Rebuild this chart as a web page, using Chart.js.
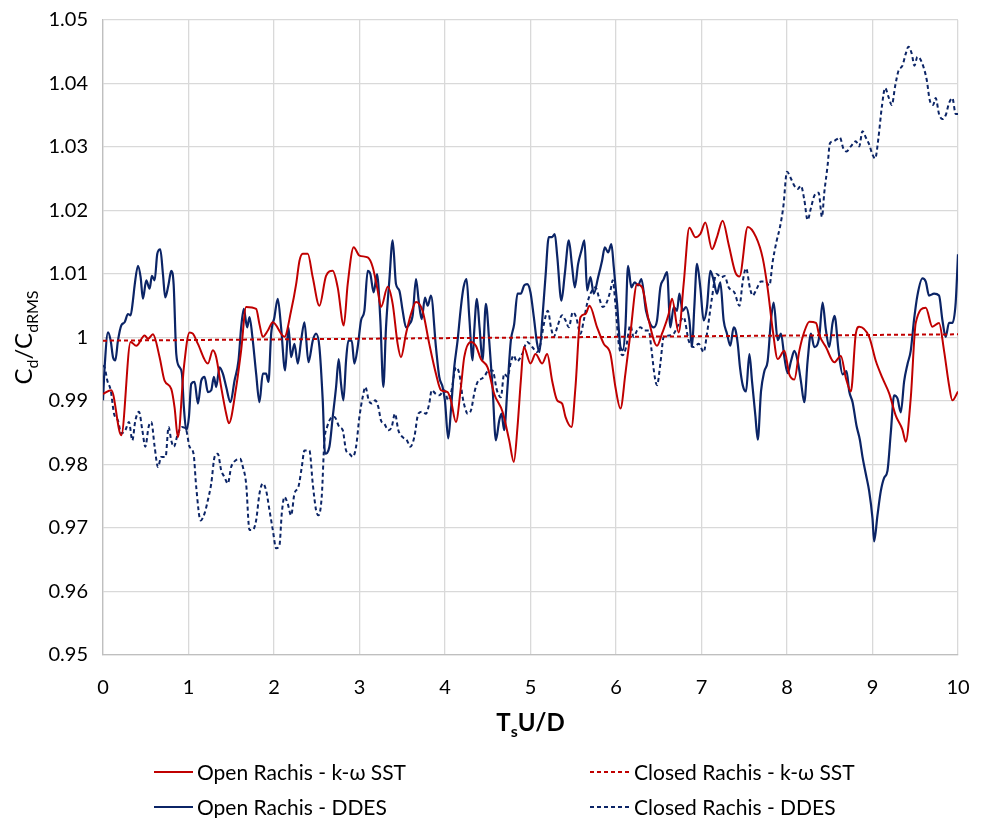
<!DOCTYPE html>
<html>
<head>
<meta charset="utf-8">
<script src="https://cdn.jsdelivr.net/npm/chart.js@4/dist/chart.umd.min.js"></script>
<style>
  body { margin: 0; background: #fff; }
  #wrap { width: 984px; height: 818px; }
</style>
</head>
<body>
<div id="wrap"><canvas id="chart" width="984" height="818"></canvas></div>
<script>
// ticks
const xTicks = [0, 1, 2, 3, 4, 5, 6, 7, 8, 9, 10];
const yTicks = [0.95, 0.96, 0.97, 0.98, 0.99, 1.0, 1.01, 1.02, 1.03, 1.04, 1.05];

const seriesLabels = ["Open Rachis - k-\u03c9 SST", "Closed Rachis - k-\u03c9 SST", "Open Rachis - DDES", "Closed Rachis - DDES"];

// Open Rachis - k-w SST (red solid)
const sstOpenX = [0, 0.097, 0.214, 0.323, 0.389, 0.487, 0.526, 0.584, 0.662, 0.72, 0.798, 0.837, 0.876, 0.946, 1.012, 1.051, 1.11, 1.227, 1.285, 1.324, 1.382, 1.441, 1.472, 1.558, 1.616, 1.674, 1.791, 1.83, 1.869, 1.928, 1.986, 2.122, 2.2, 2.259, 2.298, 2.336, 2.395, 2.453, 2.531, 2.609, 2.687, 2.745, 2.816, 2.862, 2.932, 2.999, 3.096, 3.154, 3.213, 3.252, 3.33, 3.388, 3.446, 3.485, 3.544, 3.602, 3.661, 3.738, 3.816, 3.894, 3.953, 4.03, 4.069, 4.128, 4.186, 4.225, 4.303, 4.361, 4.42, 4.498, 4.576, 4.673, 4.751, 4.805, 4.848, 4.887, 4.922, 5.0, 5.059, 5.137, 5.195, 5.253, 5.312, 5.37, 5.409, 5.479, 5.526, 5.584, 5.643, 5.69, 5.779, 5.857, 5.935, 5.993, 6.052, 6.11, 6.168, 6.246, 6.305, 6.383, 6.48, 6.538, 6.616, 6.655, 6.733, 6.791, 6.858, 6.928, 6.986, 7.045, 7.123, 7.181, 7.247, 7.317, 7.395, 7.444, 7.541, 7.638, 7.716, 7.774, 7.833, 7.891, 7.969, 8.027, 8.086, 8.144, 8.202, 8.261, 8.339, 8.377, 8.455, 8.553, 8.63, 8.689, 8.747, 8.805, 8.844, 8.961, 9.039, 9.117, 9.195, 9.272, 9.35, 9.389, 9.447, 9.506, 9.623, 9.7, 9.778, 9.837, 9.895, 9.934, 10.0];
const sstOpenY = [0.9911, 0.9917, 0.9846, 0.9993, 0.9987, 1.0003, 0.9998, 1.0005, 0.9969, 0.9932, 0.9919, 0.989, 0.9843, 0.9953, 1.0008, 1.0006, 0.999, 0.9959, 0.998, 0.9969, 0.9922, 0.988, 0.9865, 0.9922, 0.998, 1.0048, 1.0045, 1.0021, 1.0001, 1.0011, 1.0024, 1.0001, 1.0042, 1.0084, 1.0121, 1.0132, 1.0132, 1.0095, 1.005, 1.0097, 1.0105, 1.0079, 1.0019, 1.0084, 1.0142, 1.0129, 1.0126, 1.0111, 1.0074, 1.0048, 1.008, 1.0053, 0.999, 0.9969, 1.0006, 1.0037, 1.0056, 1.0042, 0.999, 0.9943, 0.9917, 0.9914, 0.9901, 0.9867, 0.9922, 0.9969, 0.9993, 0.9987, 0.9966, 0.9953, 0.9911, 0.9883, 0.9838, 0.9804, 0.9859, 0.9932, 0.9985, 0.9959, 0.9974, 0.9959, 0.9974, 0.9932, 0.9901, 0.9896, 0.9875, 0.9859, 0.9922, 1.0032, 1.0037, 1.005, 1.0016, 0.999, 0.9974, 0.9922, 0.9888, 0.9943, 1.0006, 1.0084, 1.0079, 1.0027, 0.9987, 1.0006, 1.0037, 1.0061, 1.0008, 1.0084, 1.0173, 1.0158, 1.0163, 1.0181, 1.0139, 1.0158, 1.0184, 1.0147, 1.0103, 1.0096, 1.0174, 1.0158, 1.0125, 1.0077, 1.0012, 0.9966, 0.9979, 0.9942, 0.9934, 0.9979, 1.0009, 1.0025, 1.0023, 1.0004, 0.9985, 0.9961, 0.9971, 0.9936, 0.9915, 1.0006, 1.0017, 1.0001, 0.9963, 0.9936, 0.9912, 0.9877, 0.9855, 0.9836, 0.9904, 1.0023, 1.0047, 1.0017, 1.0023, 0.9979, 0.9925, 0.9901, 0.9915];

// Closed Rachis - k-w SST (red dashed)
const sstClosedX = [0, 2, 4, 6, 8, 10];
const sstClosedY = [0.9995, 0.9997, 0.9999, 1.0001, 1.0003, 1.0005];

// Open Rachis - DDES (navy solid)
const ddesOpenX = [0, 0.019, 0.058, 0.09, 0.117, 0.144, 0.175, 0.214, 0.253, 0.292, 0.323, 0.35, 0.37, 0.409, 0.44, 0.467, 0.506, 0.545, 0.572, 0.604, 0.635, 0.67, 0.701, 0.728, 0.767, 0.798, 0.826, 0.857, 0.896, 0.923, 0.946, 0.974, 1.005, 1.032, 1.071, 1.11, 1.149, 1.188, 1.227, 1.266, 1.297, 1.324, 1.363, 1.402, 1.441, 1.491, 1.538, 1.585, 1.616, 1.647, 1.686, 1.713, 1.752, 1.791, 1.83, 1.869, 1.908, 1.935, 1.967, 2.005, 2.044, 2.083, 2.13, 2.169, 2.2, 2.239, 2.278, 2.317, 2.356, 2.403, 2.453, 2.492, 2.531, 2.57, 2.597, 2.648, 2.687, 2.726, 2.757, 2.784, 2.812, 2.843, 2.87, 2.909, 2.94, 2.979, 3.018, 3.057, 3.096, 3.127, 3.166, 3.205, 3.244, 3.279, 3.31, 3.349, 3.388, 3.427, 3.466, 3.505, 3.544, 3.583, 3.622, 3.661, 3.692, 3.727, 3.766, 3.797, 3.836, 3.894, 3.933, 3.972, 3.999, 4.038, 4.069, 4.108, 4.147, 4.186, 4.217, 4.252, 4.284, 4.323, 4.342, 4.373, 4.404, 4.439, 4.478, 4.517, 4.556, 4.595, 4.634, 4.661, 4.692, 4.731, 4.77, 4.809, 4.848, 4.887, 4.926, 4.961, 5.0, 5.039, 5.078, 5.105, 5.137, 5.175, 5.214, 5.253, 5.284, 5.312, 5.362, 5.401, 5.448, 5.487, 5.518, 5.557, 5.596, 5.631, 5.662, 5.701, 5.74, 5.791, 5.837, 5.869, 5.908, 5.946, 5.974, 6.013, 6.052, 6.079, 6.11, 6.141, 6.18, 6.219, 6.258, 6.297, 6.351, 6.402, 6.441, 6.48, 6.519, 6.558, 6.597, 6.636, 6.675, 6.714, 6.741, 6.78, 6.819, 6.858, 6.889, 6.916, 6.947, 6.986, 7.025, 7.064, 7.103, 7.142, 7.181, 7.22, 7.259, 7.298, 7.337, 7.376, 7.397, 7.424, 7.451, 7.482, 7.521, 7.56, 7.591, 7.63, 7.658, 7.696, 7.735, 7.774, 7.813, 7.844, 7.891, 7.93, 7.969, 8.008, 8.047, 8.086, 8.125, 8.163, 8.202, 8.241, 8.28, 8.319, 8.377, 8.416, 8.455, 8.494, 8.533, 8.556, 8.603, 8.65, 8.696, 8.728, 8.767, 8.813, 8.852, 8.883, 8.922, 8.961, 9.0, 9.019, 9.058, 9.097, 9.136, 9.175, 9.214, 9.253, 9.292, 9.331, 9.37, 9.409, 9.447, 9.486, 9.525, 9.584, 9.623, 9.661, 9.72, 9.778, 9.817, 9.856, 9.895, 9.934, 9.973, 10.0];
const ddesOpenY = [0.9901, 0.9953, 1.0008, 0.9995, 0.9969, 0.9964, 0.9995, 1.0019, 1.0024, 1.0037, 1.0035, 1.0058, 1.0082, 1.0113, 1.0095, 1.0061, 1.009, 1.0077, 1.0097, 1.009, 1.0132, 1.0139, 1.01, 1.0063, 1.0084, 1.0105, 1.0084, 0.9974, 0.9953, 0.9943, 0.989, 0.9854, 0.9875, 0.9927, 0.993, 0.9896, 0.9932, 0.9938, 0.9914, 0.9917, 0.9938, 0.9922, 0.9953, 0.9943, 0.9922, 0.9898, 0.9932, 0.9964, 1.0016, 1.0045, 1.0016, 1.0032, 0.9995, 0.9943, 0.9898, 0.9943, 0.9943, 0.993, 1.0006, 1.0032, 1.0061, 1.0016, 0.9948, 1.0016, 0.9969, 0.999, 0.9959, 0.9995, 1.0024, 0.9961, 0.9995, 1.0006, 0.9985, 0.9901, 0.9817, 0.9828, 0.9875, 0.9922, 0.9966, 0.9927, 0.9901, 0.9964, 0.9995, 0.9995, 0.9959, 0.9985, 1.0027, 1.0042, 1.0105, 1.01, 1.0071, 1.01, 1.0027, 0.9922, 1.0016, 1.009, 1.0153, 1.0084, 1.0074, 1.0042, 1.0016, 1.0021, 1.0035, 1.0092, 1.0058, 1.0029, 1.0063, 1.005, 1.0066, 0.9985, 0.9938, 0.9922, 0.9901, 0.9841, 0.9885, 0.9953, 0.9995, 1.0048, 1.0079, 1.0092, 1.0032, 0.9964, 1.0011, 1.0061, 1.0016, 0.9964, 1.0053, 0.9995, 0.9922, 0.9838, 0.9869, 0.988, 0.9854, 0.9922, 0.9995, 1.0021, 1.0069, 1.0069, 1.0082, 1.0084, 1.0071, 1.0032, 0.999, 0.9977, 1.0027, 1.0095, 1.0158, 1.0158, 1.0163, 1.0129, 1.0058, 1.01, 1.0153, 1.0111, 1.0079, 1.0116, 1.0137, 1.0153, 1.0074, 1.0095, 1.0069, 1.0095, 1.0121, 1.0142, 1.0134, 1.0147, 1.0111, 1.0053, 0.9985, 0.998, 1.0016, 1.0113, 1.0079, 1.0087, 1.0082, 1.0092, 1.0042, 1.0021, 1.0016, 1.0027, 1.0079, 1.0092, 1.0103, 1.0016, 1.0048, 1.0042, 1.0069, 1.0042, 1.0048, 1.0027, 0.9985, 1.0048, 1.0116, 1.0079, 1.0027, 1.0048, 1.0105, 1.009, 1.0069, 1.0087, 1.0027, 1.0006, 0.9987, 1.0016, 1.0012, 0.999, 0.9952, 0.9925, 0.9915, 0.9974, 0.9931, 0.9877, 0.9839, 0.9915, 0.9947, 0.9963, 1.0028, 1.0055, 0.9996, 1.0006, 0.9969, 0.9944, 0.9963, 0.9979, 0.9963, 0.9931, 0.9898, 0.9963, 1.0006, 0.9985, 1.0001, 1.0055, 1.0012, 0.9985, 1.0023, 1.0034, 0.9979, 0.9942, 0.9947, 0.9915, 0.9898, 0.9861, 0.9839, 0.9812, 0.9785, 0.9758, 0.9715, 0.9679, 0.972, 0.9758, 0.9779, 0.979, 0.985, 0.9909, 0.9904, 0.9882, 0.9931, 0.9958, 0.9979, 1.0028, 1.0066, 1.0093, 1.0088, 1.0066, 1.0069, 1.0066, 1.0028, 1.0001, 1.0023, 1.0023, 1.0055, 1.0131];

// Closed Rachis - DDES (navy dashed)
const ddesClosedX = [0, 0.019, 0.051, 0.09, 0.129, 0.175, 0.214, 0.261, 0.304, 0.343, 0.378, 0.421, 0.46, 0.495, 0.533, 0.565, 0.604, 0.643, 0.681, 0.732, 0.767, 0.798, 0.829, 0.876, 0.923, 0.974, 1.012, 1.059, 1.09, 1.141, 1.188, 1.227, 1.266, 1.305, 1.343, 1.382, 1.421, 1.46, 1.499, 1.558, 1.604, 1.636, 1.674, 1.713, 1.752, 1.791, 1.83, 1.869, 1.908, 1.947, 1.986, 2.025, 2.064, 2.091, 2.122, 2.161, 2.2, 2.239, 2.286, 2.325, 2.356, 2.414, 2.453, 2.492, 2.52, 2.558, 2.59, 2.621, 2.66, 2.706, 2.765, 2.804, 2.843, 2.882, 2.921, 2.96, 2.999, 3.037, 3.069, 3.108, 3.146, 3.185, 3.221, 3.252, 3.291, 3.337, 3.376, 3.415, 3.454, 3.505, 3.555, 3.594, 3.641, 3.688, 3.738, 3.777, 3.816, 3.844, 3.894, 3.933, 3.992, 4.038, 4.077, 4.128, 4.167, 4.206, 4.233, 4.264, 4.303, 4.35, 4.389, 4.428, 4.467, 4.506, 4.556, 4.607, 4.653, 4.692, 4.731, 4.77, 4.801, 4.84, 4.903, 4.961, 5.02, 5.078, 5.117, 5.156, 5.203, 5.242, 5.273, 5.312, 5.37, 5.409, 5.448, 5.495, 5.534, 5.584, 5.623, 5.662, 5.701, 5.76, 5.806, 5.845, 5.884, 5.935, 5.962, 5.993, 6.032, 6.079, 6.118, 6.168, 6.207, 6.246, 6.285, 6.336, 6.383, 6.414, 6.453, 6.48, 6.519, 6.558, 6.616, 6.675, 6.733, 6.791, 6.85, 6.908, 6.967, 7.025, 7.064, 7.123, 7.173, 7.231, 7.27, 7.317, 7.356, 7.385, 7.444, 7.482, 7.521, 7.568, 7.599, 7.646, 7.696, 7.747, 7.794, 7.833, 7.879, 7.918, 7.957, 8.0, 8.047, 8.086, 8.125, 8.163, 8.202, 8.241, 8.28, 8.319, 8.37, 8.409, 8.436, 8.475, 8.502, 8.541, 8.58, 8.619, 8.658, 8.696, 8.747, 8.805, 8.844, 8.883, 8.922, 8.961, 9.0, 9.031, 9.07, 9.109, 9.148, 9.187, 9.226, 9.265, 9.304, 9.35, 9.389, 9.42, 9.459, 9.49, 9.525, 9.556, 9.603, 9.634, 9.669, 9.708, 9.739, 9.778, 9.817, 9.856, 9.895, 9.934, 9.973, 10.0];
const ddesClosedY = [0.9956, 0.9953, 0.9932, 0.9917, 0.988, 0.9869, 0.9849, 0.9854, 0.9867, 0.9838, 0.9869, 0.9883, 0.9854, 0.9828, 0.9859, 0.9867, 0.9828, 0.9796, 0.9812, 0.9812, 0.9859, 0.9838, 0.9828, 0.9849, 0.9859, 0.9854, 0.9828, 0.9817, 0.9765, 0.9712, 0.9723, 0.9744, 0.977, 0.9812, 0.9817, 0.9791, 0.978, 0.977, 0.9796, 0.9807, 0.9809, 0.9796, 0.977, 0.9697, 0.9697, 0.9712, 0.9754, 0.977, 0.9759, 0.9728, 0.9697, 0.9668, 0.9673, 0.9723, 0.9749, 0.9738, 0.972, 0.9754, 0.9765, 0.9796, 0.9822, 0.9822, 0.977, 0.9728, 0.972, 0.9749, 0.9838, 0.9859, 0.9872, 0.9875, 0.9859, 0.9854, 0.9822, 0.9817, 0.9812, 0.9828, 0.9875, 0.9906, 0.9922, 0.9901, 0.9896, 0.9901, 0.989, 0.9869, 0.9864, 0.9854, 0.9859, 0.988, 0.9854, 0.9843, 0.9838, 0.9828, 0.9843, 0.988, 0.9883, 0.988, 0.9896, 0.9917, 0.9911, 0.9909, 0.9917, 0.9901, 0.9917, 0.9953, 0.9943, 0.9906, 0.989, 0.988, 0.9885, 0.9917, 0.9932, 0.9935, 0.994, 0.9948, 0.9948, 0.9917, 0.9906, 0.9943, 0.9938, 0.9961, 0.9972, 0.9962, 0.9974, 0.9993, 0.9985, 0.9977, 0.999, 1.0021, 1.0042, 1.0014, 1.0001, 1.0016, 1.0035, 1.0027, 1.0016, 1.004, 1.0032, 1.0006, 1.0027, 1.0053, 1.0069, 1.0079, 1.0061, 1.0048, 1.0053, 1.0074, 1.009, 1.0053, 0.999, 0.9972, 0.9985, 1.0019, 1.0001, 1.0011, 1.0016, 1.0011, 1.0011, 0.9982, 0.9938, 0.9925, 0.9959, 1.0001, 1.0003, 1.0006, 1.0021, 1.0032, 0.9995, 0.9985, 0.999, 0.9977, 1.0006, 1.0063, 1.01, 1.0095, 1.0097, 1.0079, 1.0074, 1.0071, 1.005, 1.0088, 1.0109, 1.0077, 1.0066, 1.0077, 1.0088, 1.0088, 1.0082, 1.012, 1.0152, 1.0174, 1.0206, 1.0261, 1.025, 1.0239, 1.0234, 1.0239, 1.0217, 1.0185, 1.0204, 1.0223, 1.0228, 1.019, 1.0228, 1.0271, 1.0306, 1.0309, 1.0312, 1.0315, 1.0298, 1.0293, 1.0301, 1.0309, 1.0301, 1.0325, 1.0315, 1.0304, 1.0288, 1.0282, 1.0315, 1.0363, 1.0393, 1.0379, 1.0366, 1.0396, 1.042, 1.0428, 1.0447, 1.0458, 1.0447, 1.0428, 1.0442, 1.0439, 1.0423, 1.0406, 1.0374, 1.0366, 1.0377, 1.0352, 1.0344, 1.035, 1.0369, 1.0377, 1.0352, 1.0352];

const RED = "#c00000";
const NAVY = "#0b2466";
const FONT = "Lato, 'Open Sans', sans-serif";

function pts(xs, ys) {
  return xs.map((x, i) => ({ x: x, y: ys[i] }));
}

// draws the axis titles (with subscripts) and the two-column legend
const decorations = {
  id: "decorations",
  afterDraw(chart) {
    const ctx = chart.ctx;
    const area = chart.chartArea;
    ctx.save();
    ctx.fillStyle = "#000";
    ctx.textBaseline = "alphabetic";

    // x title: TsU/D
    const xParts = [["T", 0], ["s", 1], ["U/D", 0]];
    drawParts(ctx, xParts, (area.left + area.right) / 2, 731, "bold", 24, 16);

    // y title: Cd/CdRMS, rotated
    ctx.translate(32, (area.top + area.bottom) / 2);
    ctx.rotate(-Math.PI / 2);
    const yParts = [["C", 0], ["d", 1], ["/C", 0], ["dRMS", 1]];
    drawParts(ctx, yParts, 0, 0, "", 24, 16);
    ctx.setTransform(1, 0, 0, 1, 0, 0);

    // legend
    const items = [
      { c: RED, dash: [], lx: 154, tx: 197, y: 772 },
      { c: RED, dash: [4, 3], lx: 590, tx: 634, y: 772 },
      { c: NAVY, dash: [], lx: 154, tx: 197, y: 807 },
      { c: NAVY, dash: [4, 3], lx: 590, tx: 634, y: 807 }
    ];
    ctx.font = "21px " + FONT;
    ctx.textBaseline = "middle";
    items.forEach((it, i) => {
      ctx.strokeStyle = it.c;
      ctx.lineWidth = 2;
      ctx.setLineDash(it.dash);
      ctx.beginPath();
      ctx.moveTo(it.lx, it.y);
      ctx.lineTo(it.lx + 39, it.y);
      ctx.stroke();
      ctx.fillStyle = "#000";
      ctx.fillText(seriesLabels[i], it.tx, it.y + 1);
    });
    ctx.restore();
  }
};

function drawParts(ctx, parts, cx, baseY, weight, big, small) {
  let total = 0;
  parts.forEach(p => {
    ctx.font = (weight ? weight + " " : "") + (p[1] ? small : big) + "px " + FONT;
    total += ctx.measureText(p[0]).width;
  });
  let x = cx - total / 2;
  ctx.textAlign = "left";
  parts.forEach(p => {
    ctx.font = (weight ? weight + " " : "") + (p[1] ? small : big) + "px " + FONT;
    ctx.fillText(p[0], x, baseY + (p[1] ? 6 : 0));
    x += ctx.measureText(p[0]).width;
  });
}

new Chart(document.getElementById("chart"), {
  type: "line",
  data: {
    datasets: [
      { label: seriesLabels[0], data: pts(sstOpenX, sstOpenY), borderColor: RED, borderWidth: 2 },
      { label: seriesLabels[1], data: pts(sstClosedX, sstClosedY), borderColor: RED, borderWidth: 2, borderDash: [4, 3] },
      { label: seriesLabels[2], data: pts(ddesOpenX, ddesOpenY), borderColor: NAVY, borderWidth: 2.2 },
      { label: seriesLabels[3], data: pts(ddesClosedX, ddesClosedY), borderColor: NAVY, borderWidth: 2, borderDash: [4, 3] }
    ]
  },
  options: {
    responsive: false,
    animation: false,
    parsing: false,
    layout: { padding: { left: 0, right: 26, top: 20, bottom: 118 } },
    elements: {
      point: { radius: 0 },
      line: { cubicInterpolationMode: "monotone", fill: false }
    },
    plugins: {
      legend: { display: false },
      tooltip: { enabled: false }
    },
    scales: {
      x: {
        type: "linear",
        min: 0,
        max: 10,
        afterBuildTicks: s => { s.ticks = xTicks.map(v => ({ value: v })); },
        afterFit: s => { s.height = 45; s.paddingLeft = 0; s.paddingRight = 0; },
        grid: { color: "#d9d9d9", lineWidth: 1.3, drawTicks: false },
        border: { color: "#bfbfbf", width: 1.3 },
        ticks: { padding: 21, color: "#000", font: { family: FONT, size: 20 } }
      },
      y: {
        min: 0.95,
        max: 1.05,
        afterBuildTicks: s => { s.ticks = yTicks.map(v => ({ value: v })); },
        afterFit: s => { s.width = 103; s.paddingTop = 0; s.paddingBottom = 0; },
        grid: { color: "#d9d9d9", lineWidth: 1.3, drawTicks: false },
        border: { color: "#bfbfbf", width: 1.3 },
        ticks: {
          padding: 15,
          color: "#000",
          font: { family: FONT, size: 20 },
          callback: v => String(Number(v.toFixed(2)))
        }
      }
    }
  },
  plugins: [decorations]
});
</script>
</body>
</html>
